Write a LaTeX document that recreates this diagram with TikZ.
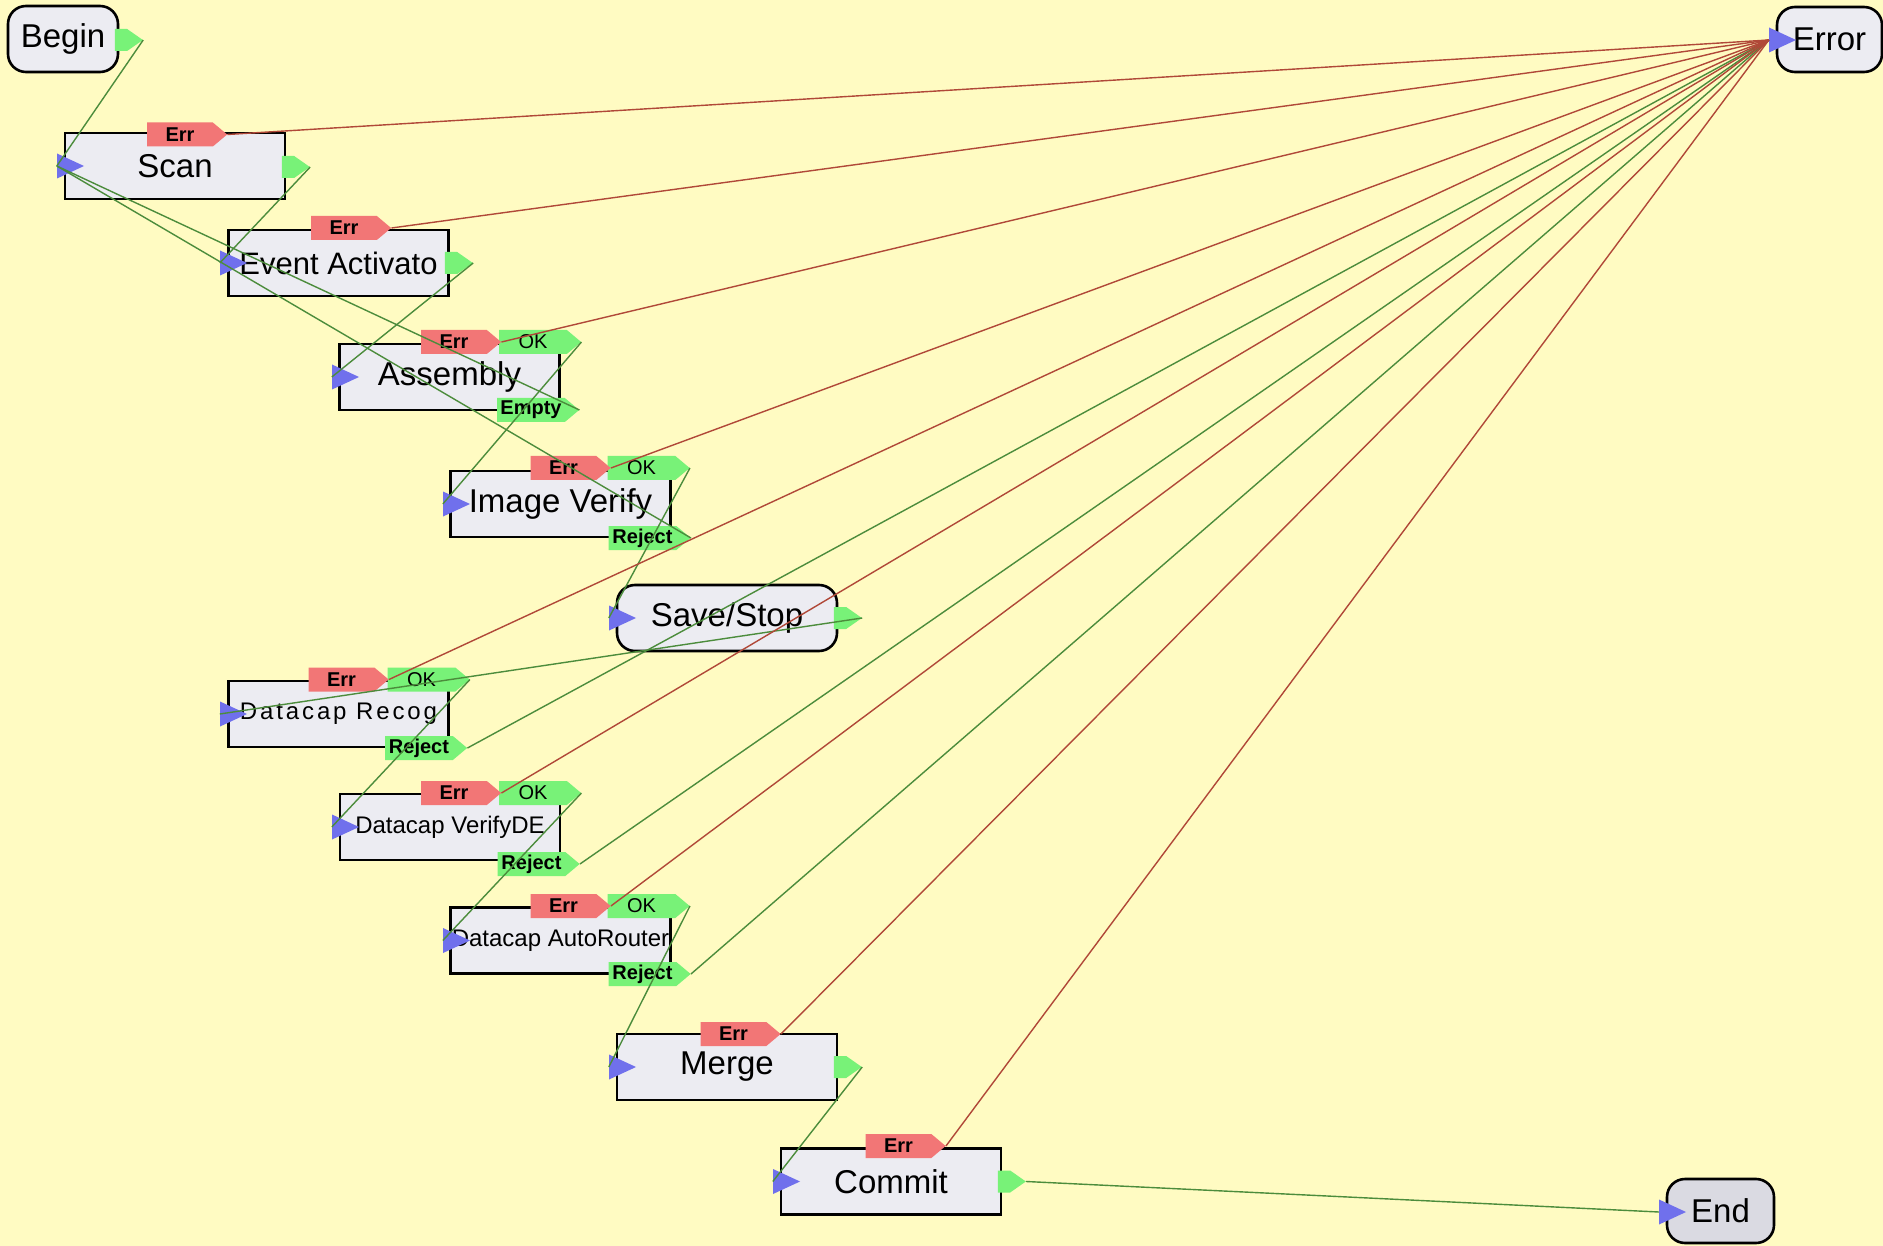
\documentclass[tikz,border=0pt]{standalone}
\usepackage{fontspec}
\setmainfont{Liberation Sans}
\usetikzlibrary{shapes.symbols,shapes.geometric}
\definecolor{bgc}{RGB}{255,251,194}
\definecolor{boxc}{RGB}{236,236,242}
\definecolor{endc}{RGB}{218,218,226}
\definecolor{errc}{RGB}{242,118,118}
\definecolor{okc}{RGB}{120,242,120}
\definecolor{inc}{RGB}{112,112,236}
\definecolor{rlc}{RGB}{176,72,56}
\definecolor{glc}{RGB}{76,140,60}
\tikzset{
 box/.style={rectangle, draw=black, line width=2.6pt, fill=boxc, minimum width=220pt, minimum height=66pt, inner sep=0pt, font=\fontsize{33}{33}\selectfont},
 rbox/.style={box, rounded corners=18pt},
 smallbox/.style={box, font=\fontsize{24}{24}\selectfont},
 errtab/.style={signal, signal to=east, signal pointer angle=80, fill=errc, draw=none, minimum width=80pt, minimum height=24pt, inner sep=0pt, font=\fontsize{20}{20}\selectfont\bfseries},
 oktab/.style={errtab, fill=okc, minimum width=82pt, font=\fontsize{20}{20}\selectfont},
 rejtab/.style={errtab, fill=okc, minimum width=82pt},
 outport/.style={signal, signal to=east, signal pointer angle=70, fill=okc, draw=none, minimum width=28pt, minimum height=22pt, inner sep=0pt},
 inport/.style={isosceles triangle, isosceles triangle stretches=true, shape border rotate=0, fill=inc, draw=none, minimum width=25pt, minimum height=27pt, inner sep=0pt},
 gline/.style={draw=glc, line width=1.4pt},
 rline/.style={draw=rlc, line width=1.4pt},
}
\begin{document}
\begin{tikzpicture}[x=1pt,y=-1pt]
\useasboundingbox (0,0) rectangle (1883,1246);
\fill[bgc] (0,0) rectangle (1883,1246);

% main nodes
\node[rbox, minimum width=110pt] (begin) at (63,39) {Begin};
\node[box] (scan) at (175,166) {Scan};
\node[box, font=\fontsize{31}{31}\selectfont] (ev) at (338.5,263) {Event Activato};
\node[box] (asm) at (449.5,377) {Assembly};
\node[box] (iv) at (560.5,504) {Image Verify};
\node[rbox] (ss) at (727,618) {Save/Stop};
\node[smallbox] (rec) at (338.5,714) {\addfontfeature{LetterSpace=12}Datacap Recog};
\node[smallbox] (vde) at (450,827) {Datacap VerifyDE};
\node[smallbox] (ar) at (560.5,940.5) {Datacap AutoRouter};
\node[box] (mg) at (727,1067) {Merge};
\node[box] (cm) at (891,1181.5) {Commit};
\node[rbox, minimum width=105pt, minimum height=65pt] (errn) at (1829.5,39.5) {Error};
\node[rbox, fill=endc, minimum width=107pt, minimum height=64pt] (endn) at (1720.5,1211) {End};

% tabs
\node[errtab] (scanerr) at (180,134.5) {Err};
\node[errtab] (everr) at (344,228) {Err};
\node[oktab] (asmok) at (533,342) {OK};
\node[errtab] (asmerr) at (454,342) {Err};
\node[rejtab] (asmemp) at (531,410) {Empty};
\node[oktab] (ivok) at (641.5,468) {OK};
\node[errtab] (iverr) at (563.5,468) {Err};
\node[rejtab] (ivrej) at (642.5,538) {Reject};
\node[oktab] (recok) at (421.5,679.5) {OK};
\node[errtab] (recerr) at (341.5,679.5) {Err};
\node[rejtab] (recrej) at (419,748) {Reject};
\node[oktab] (vdeok) at (533,793) {OK};
\node[errtab] (vdeerr) at (454,793) {Err};
\node[rejtab] (vderej) at (531.5,864) {Reject};
\node[oktab] (arok) at (641.5,906) {OK};
\node[errtab] (arerr) at (563.5,906) {Err};
\node[rejtab] (arrej) at (642.5,974) {Reject};
\node[errtab] (mgerr) at (733.5,1034) {Err};
\node[errtab] (cmerr) at (898.5,1146) {Err};

% output ports
\node[outport] (beginout) at (121,40) {};
\node[outport] (scanout) at (288,167) {};
\node[outport] (evout) at (451,263) {};
\node[outport] (ssout) at (840,618) {};
\node[outport] (mgout) at (840,1067) {};
\node[outport] (cmout) at (1004,1181.5) {};

% input ports
\node[inport] (scanin) at (65,166) {};
\node[inport] (evin) at (228,263) {};
\node[inport] (asmin) at (340,377) {};
\node[inport] (ivin) at (451,504) {};
\node[inport] (ssin) at (617,618) {};
\node[inport] (recin) at (228,714) {};
\node[inport] (vdein) at (340,827) {};
\node[inport] (arin) at (451,940.5) {};
\node[inport] (mgin) at (617,1067) {};
\node[inport] (cmin) at (781,1181.5) {};
\node[inport] (errin) at (1777,40) {};
\node[inport] (endin) at (1667,1212) {};

% green connectors
\draw[gline] (beginout.east) -- (scanin.west);
\draw[gline] (scanout.east) -- (evin.west);
\draw[gline] (evout.east) -- (asmin.west);
\draw[gline] (asmok.east) -- (ivin.west);
\draw[gline] (asmemp.east) -- (scanin.west);
\draw[gline] (ivok.east) -- (ssin.west);
\draw[gline] (ivrej.east) -- (scanin.west);
\draw[gline] (ssout.east) -- (recin.west);
\draw[gline] (recok.east) -- (vdein.west);
\draw[gline] (recrej.east) -- (errin.west);
\draw[gline] (vdeok.east) -- (arin.west);
\draw[gline] (vderej.east) -- (errin.west);
\draw[gline] (arok.east) -- (mgin.west);
\draw[gline] (arrej.east) -- (errin.west);
\draw[gline] (mgout.east) -- (cmin.west);
\draw[gline] (cmout.east) -- (endin.west);

% red connectors
\foreach \e in {scanerr,everr,asmerr,iverr,recerr,vdeerr,arerr,mgerr,cmerr}
  \draw[rline] (\e.east) -- (errin.west);
\end{tikzpicture}
\end{document}
